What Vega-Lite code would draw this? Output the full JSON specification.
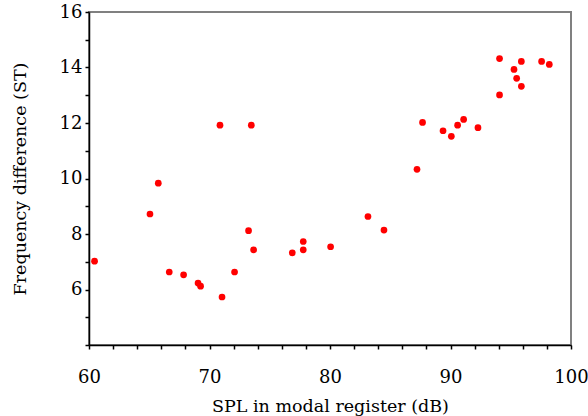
{
  "$schema": "https://vega.github.io/schema/vega-lite/v6.json",
  "width": 482,
  "height": 333,
  "autosize": {"type": "none"},
  "padding": {"left": 89, "top": 12, "right": 17, "bottom": 71},
  "background": "white",
  "config": {
    "view": {"stroke": "#808080", "strokeWidth": 2},
    "font": "DejaVu Serif",
    "axis": {
      "grid": false,
      "domainColor": "black",
      "domainWidth": 1.5,
      "tickColor": "black",
      "tickWidth": 1.5,
      "tickSize": 4,
      "labelFont": "DejaVu Serif",
      "labelFontSize": 18,
      "labelColor": "black",
      "titleFont": "DejaVu Serif",
      "titleFontSize": 17.5,
      "titleFontWeight": "normal",
      "titleColor": "black"
    }
  },
  "data": {
    "values": [
      {"spl": 70.87, "diff": 11.92},
      {"spl": 73.47, "diff": 11.92},
      {"spl": 65.75, "diff": 9.83},
      {"spl": 65.06, "diff": 8.72},
      {"spl": 73.24, "diff": 8.12},
      {"spl": 73.66, "diff": 7.43},
      {"spl": 60.46, "diff": 7.02},
      {"spl": 66.66, "diff": 6.63},
      {"spl": 67.85, "diff": 6.53},
      {"spl": 69.05, "diff": 6.23},
      {"spl": 69.26, "diff": 6.12},
      {"spl": 72.08, "diff": 6.63},
      {"spl": 71.04, "diff": 5.73},
      {"spl": 87.22, "diff": 10.33},
      {"spl": 83.15, "diff": 8.63},
      {"spl": 84.48, "diff": 8.14},
      {"spl": 77.78, "diff": 7.73},
      {"spl": 77.78, "diff": 7.43},
      {"spl": 76.87, "diff": 7.32},
      {"spl": 80.05, "diff": 7.54},
      {"spl": 94.07, "diff": 14.32},
      {"spl": 95.88, "diff": 14.22},
      {"spl": 97.56, "diff": 14.22},
      {"spl": 98.2, "diff": 14.11},
      {"spl": 95.27, "diff": 13.93},
      {"spl": 95.49, "diff": 13.61},
      {"spl": 95.88, "diff": 13.32},
      {"spl": 94.07, "diff": 13.01},
      {"spl": 87.68, "diff": 12.02},
      {"spl": 91.09, "diff": 12.13},
      {"spl": 90.59, "diff": 11.92},
      {"spl": 89.38, "diff": 11.72},
      {"spl": 90.07, "diff": 11.52},
      {"spl": 92.28, "diff": 11.83}
    ]
  },
  "mark": {"type": "circle", "color": "#ff0000", "opacity": 1, "size": 45},
  "encoding": {
    "x": {
      "field": "spl",
      "type": "quantitative",
      "scale": {"domain": [60, 100], "nice": false, "zero": false},
      "axis": {
        "title": "SPL in modal register (dB)",
        "values": [60, 62, 64, 66, 68, 70, 72, 74, 76, 78, 80, 82, 84, 86, 88, 90, 92, 94, 96, 98, 100],
        "labelExpr": "datum.value % 10 == 0 ? datum.label : ''",
        "labelBaseline": "alphabetic",
        "labelPadding": 33,
        "labelFlush": false,
        "titleX": 241,
        "titleY": 66,
        "titleBaseline": "alphabetic"
      }
    },
    "y": {
      "field": "diff",
      "type": "quantitative",
      "scale": {"domain": [4, 16], "nice": false, "zero": false},
      "axis": {
        "title": "Frequency difference (ST)",
        "values": [4, 5, 6, 7, 8, 9, 10, 11, 12, 13, 14, 15, 16],
        "labelExpr": "datum.value % 2 == 0 && datum.value > 4 ? datum.label : ''",
        "labelPadding": 3,
        "labelFlush": false,
        "titleX": -64,
        "titleBaseline": "alphabetic"
      }
    }
  }
}
